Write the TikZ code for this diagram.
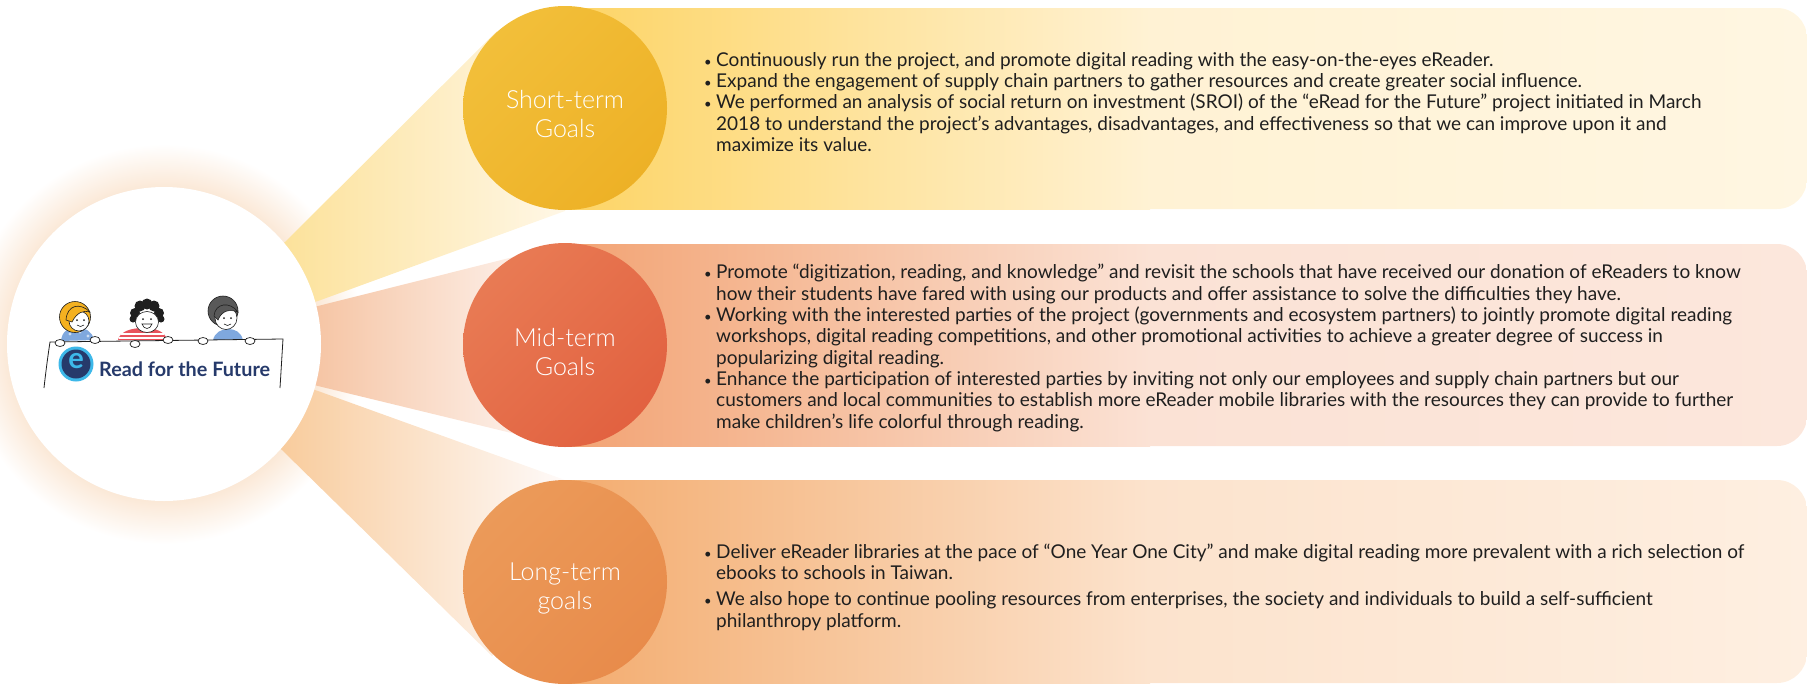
\documentclass[tikz,border=0pt]{standalone}
\usepackage{fontspec}
\setmainfont{Lato}
\newfontfamily\thinfont{Lato Light}
\usetikzlibrary{shadings}

% colours of the three goal rows
\definecolor{ink}{HTML}{1F1F1F}
\definecolor{navy}{HTML}{263A6B}
\definecolor{haloc}{HTML}{FBE8D6}
\definecolor{shortA}{HTML}{FDD465}
\definecolor{shortB}{HTML}{FFF2D4}
\definecolor{shortC}{HTML}{FFF6E2}
\definecolor{midA}{HTML}{F2A373}
\definecolor{midB}{HTML}{FBE2D5}
\definecolor{midC}{HTML}{FCE7DC}
\definecolor{longA}{HTML}{F3AC6F}
\definecolor{longB}{HTML}{FCE3CD}
\definecolor{longC}{HTML}{FEEFE1}
\definecolor{fanshortA}{HTML}{FBD97B}
\definecolor{fanshortB}{HTML}{FFF7E6}
\definecolor{fanmidA}{HTML}{F1A673}
\definecolor{fanmidB}{HTML}{FEF8F6}
\definecolor{fanlongA}{HTML}{F6B977}
\definecolor{fanlongB}{HTML}{FEFAF9}
\definecolor{shortUL}{HTML}{F3C23E}
\definecolor{shortM}{HTML}{F0B830}
\definecolor{shortLR}{HTML}{ECAE22}
\definecolor{midUL}{HTML}{EA8058}
\definecolor{midM}{HTML}{E56E4A}
\definecolor{midLR}{HTML}{E05C3C}
\definecolor{longUL}{HTML}{EC9D5C}
\definecolor{longM}{HTML}{EA9352}
\definecolor{longLR}{HTML}{E78848}
\definecolor{hairy}{HTML}{F4B120}
\definecolor{shirtb}{HTML}{7FA8DE}
\definecolor{shirtr}{HTML}{E8525C}
\definecolor{hairg}{HTML}{595959}
\definecolor{ecyan}{HTML}{3DB8E9}

\pgfdeclareradialshading{halo}{\pgfpoint{0bp}{0bp}}{color(0bp)=(haloc); color(19.5bp)=(haloc); color(25bp)=(white); color(50bp)=(white)}

\newcommand{\gitem}{\makebox[12pt][l]{\fontsize{13}{13}\selectfont\textbullet}}
\newcommand{\gcont}{\hspace*{12pt}}

\tikzset{
	goal/.style={circle, minimum size=204pt, inner sep=0pt},
	goal label/.style={align=center, inner sep=0pt, text=white, font=\thinfont\fontsize{25}{29}\selectfont},
	goal text/.style={anchor=west, align=left, inner sep=0pt, text=ink, font=\fontsize{19}{21.3}\selectfont},
	hand/.style={fill=white, draw=ink, line width=0.7pt},
}

\begin{document}
\begin{tikzpicture}[x=1pt,y=-1pt]
	\useasboundingbox (0,0) rectangle (1807,683);

	% soft glow behind the logo
	\shade[shading=halo] (164,344) circle (200);

	% fans from the logo to the goals
	\shade[left color=fanshortA, right color=fanshortB]
		(164,344) -- (285,242) -- (497,31) -- (565,108) -- (565,211) -- (318,301) -- cycle;
	\shade[left color=fanmidA, right color=fanmidB]
		(164,344) -- (318,306) -- (565,244) -- (565,446) -- (318,386) -- cycle;
	\shade[left color=fanlongA, right color=fanlongB]
		(164,344) -- (318,391) -- (565,480) -- (565,582) -- (492,656) -- (282,450) -- cycle;

	\node[circle, fill=white, minimum size=314pt, inner sep=0pt] (logo) at (164,344) {};

	% kids behind the banner
	\fill[shirtb] (61,341) .. controls (62,331) and (68,328) .. (77,328) .. controls (86,328) and (92,331) .. (94,340) -- cycle;
	\fill[white!60!shirtb] (70,334) circle (1.6) (80,332) circle (1.6) (88,336) circle (1.6);
	\filldraw[fill=hairy, draw=ink, line width=0.6pt] (75,317) circle (15.5);
	\filldraw[fill=white, draw=ink, line width=0.6pt] (79,321) circle (10);
	\filldraw[fill=hairy, draw=ink, line width=0.6pt] (66,320) .. controls (67,305) and (80,302) .. (90,312) .. controls (84,310) and (77,312) .. (72,322) -- cycle;
	\fill[ink] (77,320) circle (1) (84,320) circle (1);
	\draw[ink, line width=0.6pt] (77,325) .. controls (79,327) and (82,327) .. (84,325);

	\fill[shirtr] (118,340) .. controls (120,331) and (132,328) .. (143,328) .. controls (155,328) and (165,331) .. (167,340) -- cycle;
	\draw[white, line width=1.2pt] (121,334) -- (164,334) (119,338) -- (166,338);
	\fill[ink] (135,313) circle (5) (140,306) circle (5.5) (147,304) circle (5.5) (154,306) circle (5.5) (159,313) circle (5) (133,319) circle (3.5) (161,319) circle (3.5);
	\filldraw[fill=white, draw=ink, line width=0.6pt] (147,322) ellipse (11.5 and 10.5);
	\fill[ink] (143,319) circle (1) (151,319) circle (1);
	\filldraw[fill=white, draw=ink, line width=0.6pt] (142,324) .. controls (144,330) and (150,330) .. (152,324) -- cycle;

	\fill[shirtb] (213,340) .. controls (215,332) and (222,329) .. (228,329) .. controls (235,329) and (241,332) .. (243,340) -- cycle;
	\filldraw[fill=hairg, draw=ink, line width=0.6pt] (223,311) circle (15);
	\filldraw[fill=white, draw=ink, line width=0.6pt] (226,318) ellipse (11 and 11.5);
	\filldraw[fill=hairg, draw=ink, line width=0.6pt] (214,316) .. controls (215,303) and (230,301) .. (238,312) .. controls (230,309) and (222,310) .. (218,320) -- cycle;
	\fill[ink] (224,318) circle (1) (231,318) circle (1);
	\draw[ink, line width=0.6pt] (224,324) .. controls (226,326) and (229,326) .. (231,324);

	% banner held by the kids
	\fill[white] (44,388) -- (50,342) -- (283,339) -- (280,388) -- cycle;
	\draw[ink, line width=0.8pt] (44,388) .. controls (46,370) and (48,355) .. (50,342) -- (283,339) .. controls (282,355) and (281,372) .. (280,388);
	\draw[hand] (60,343) ellipse (5 and 3.5);
	\draw[hand] (95,340) ellipse (5 and 3.5);
	\draw[hand] (135,344) ellipse (5 and 3.5);
	\draw[hand] (168,340) ellipse (5 and 3.5);
	\draw[hand] (203,341) ellipse (5 and 3.5);
	\draw[hand] (250,341) ellipse (5 and 3.5);

	% programme logo
	\fill[ecyan] (76,364) circle (17.5);
	\fill[navy] (76,364) circle (14.5);
	\node[text=ecyan, inner sep=0pt, font=\bfseries\fontsize{29}{29}\selectfont] (elogo) at (76,361) {e};
	\node[anchor=west, text=navy, inner sep=0pt, font=\bfseries\fontsize{19.8}{20}\selectfont] (title) at (99,369) {Read for the Future};

	% goal boxes
	\shade[left color=shortA, right color=shortB] (565,8) rectangle (1150,209);
	\shade[left color=shortB, right color=shortC] (1150,8) [rounded corners=30pt] -- (1807,8) -- (1807,209) [sharp corners] -- (1150,209) -- cycle;
	\shade[left color=midA, right color=midB] (565,244) rectangle (1150,446);
	\shade[left color=midB, right color=midC] (1150,244) [rounded corners=30pt] -- (1807,244) -- (1807,446) [sharp corners] -- (1150,446) -- cycle;
	\shade[left color=longA, right color=longB] (565,480) rectangle (1150,683);
	\shade[left color=longB, right color=longC] (1150,480) [rounded corners=30pt] -- (1807,480) -- (1807,683) [sharp corners] -- (1150,683) -- cycle;

	% goal circles
	\node[goal, upper left=shortUL, lower right=shortLR, upper right=shortM, lower left=shortM] (short) at (565,108) {};
	\node[goal, upper left=midUL, lower right=midLR, upper right=midM, lower left=midM] (mid) at (565,345) {};
	\node[goal, upper left=longUL, lower right=longLR, upper right=longM, lower left=longM] (long) at (565,582) {};
	\node[goal label] (shortlabel) at (565,114) {Short-term\\Goals};
	\node[goal label] (midlabel) at (565,352) {Mid-term\\Goals};
	\node[goal label] (longlabel) at (565,588) {Long-term\\goals};

	% goal texts
	\node[goal text] (shorttext) at (704,102) {%
		\gitem Continuously run the project, and promote digital reading with the easy-on-the-eyes eReader.\\
		\gitem Expand the engagement of supply chain partners to gather resources and create greater social influence.\\
		\gitem We performed an analysis of social return on investment (SROI) of the “eRead for the Future” project initiated in March\\
		\gcont 2018 to understand the project’s advantages, disadvantages, and effectiveness so that we can improve upon it and\\
		\gcont maximize its value.};
	\node[goal text] (midtext) at (704,348) {%
		\gitem Promote “digitization, reading, and knowledge” and revisit the schools that have received our donation of eReaders to know\\
		\gcont how their students have fared with using our products and offer assistance to solve the difficulties they have.\\
		\gitem Working with the interested parties of the project (governments and ecosystem partners) to jointly promote digital reading\\
		\gcont workshops, digital reading competitions, and other promotional activities to achieve a greater degree of success in\\
		\gcont popularizing digital reading.\\
		\gitem Enhance the participation of interested parties by inviting not only our employees and supply chain partners but our\\
		\gcont customers and local communities to establish more eReader mobile libraries with the resources they can provide to further\\
		\gcont make children’s life colorful through reading.};
	\node[goal text] (longtext) at (704,587) {%
		\gitem Deliver eReader libraries at the pace of “One Year One City” and make digital reading more prevalent with a rich selection of\\
		\gcont ebooks to schools in Taiwan.\\[5pt]
		\gitem We also hope to continue pooling resources from enterprises, the society and individuals to build a self-sufficient\\
		\gcont philanthropy platform.};
\end{tikzpicture}
\end{document}
